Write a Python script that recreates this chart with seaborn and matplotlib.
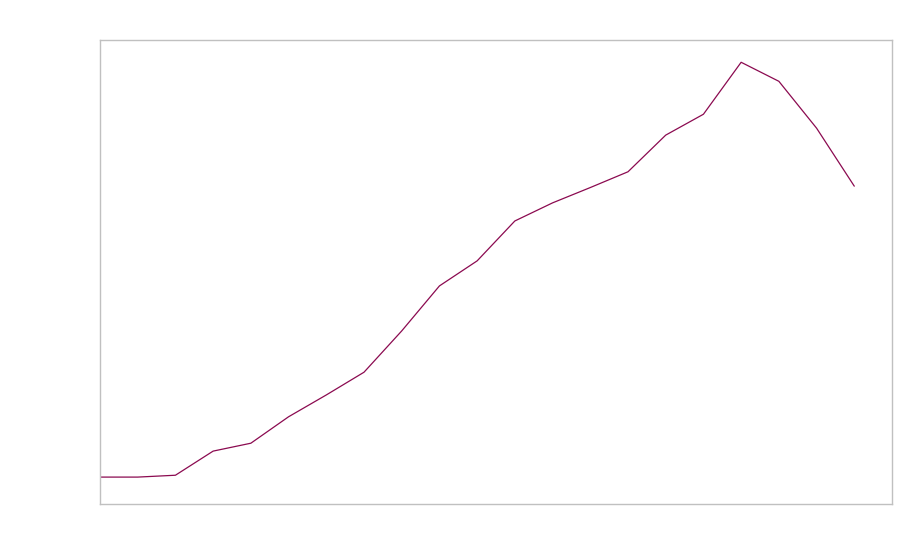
import numpy as np
import pandas as pd
import seaborn as sns
import matplotlib
matplotlib.use('Agg')
import matplotlib.pyplot as plt

# series (no labels shown, arbitrary units)
step = list(range(21))
value = [58, 58, 62, 114, 131, 188, 235, 284, 373, 470, 524,
         610, 649, 682, 716, 795, 840, 952, 911, 810, 685]

df = pd.DataFrame({'step': step, 'value': value})

sns.set_style('white')
fig = plt.figure(figsize=(9, 5.6), dpi=100)
ax = fig.add_axes([100 / 900, 1 - 504 / 560, 792 / 900, 464 / 560])

sns.lineplot(data=df, x='step', y='value', ax=ax, color='#8b0a50', linewidth=0.9)

ax.set_xlim(0, 21)
ax.set_ylim(0, 1000)
ax.set_xticks([])
ax.set_yticks([])
ax.set_xlabel('')
ax.set_ylabel('')
for s in ax.spines.values():
    s.set_color('#c0c0c0')
    s.set_linewidth(1)

fig.savefig('out.png', dpi=100)
